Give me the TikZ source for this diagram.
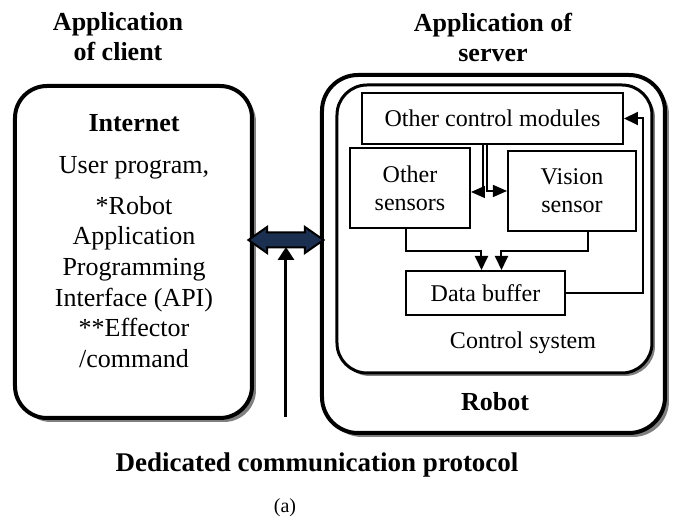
\documentclass[tikz,border=0pt]{standalone}
\usepackage{fontspec}
\setmainfont{Liberation Serif}
\usetikzlibrary{arrows.meta, calc, shapes.arrows, shadows}

\definecolor{linknavy}{HTML}{1B3050}
\tikzset{
  bigbox/.style={draw, line width=2pt, rounded corners=16pt, fill=white,
    drop shadow={shadow xshift=2pt, shadow yshift=-2pt, fill=gray, opacity=1}},
  ctrlbox/.style={draw, line width=1.5pt, rounded corners=15pt, fill=white,
    drop shadow={shadow xshift=1.5pt, shadow yshift=-1.5pt, fill=gray, opacity=1}},
  unit/.style={draw, line width=1pt, fill=white, align=center, inner sep=0pt,
    font=\fontsize{12}{14}\selectfont},
  txt/.style={align=center, inner sep=0pt, font=\fontsize{13}{15.3}\selectfont},
  boldtxt/.style={txt, font=\fontsize{13}{15}\selectfont\bfseries},
  flow/.style={line width=1pt, -{Triangle[width=6.5pt,length=7pt]}},
  thinflow/.style={line width=0.7pt, -{Triangle[width=6pt,length=7pt]}}
}

\begin{document}
\begin{tikzpicture}[x=0.5pt, y=-0.5pt]
\useasboundingbox (0,0) rectangle (677,529);

% client side
\node[boldtxt] (clienttitle) at (118,37) {Application\\of client};
\node[bigbox, minimum width=118.5pt, minimum height=166pt] (client) at (133.5,252) {};
\node[boldtxt] (internet) at (134,123) {Internet};
\node[txt] (userprog) at (134,168) {User program,};
\node[txt] (api) at (134,282) {*Robot\\Application\\Programming\\Interface (API)\\**Effector\\/command};

% server side
\node[boldtxt] (servertitle) at (493,37) {Application of\\server};
\node[bigbox, rounded corners=18pt, minimum width=171.5pt, minimum height=179pt] (robot) at (493.5,254) {};
\node[ctrlbox, minimum width=157.5pt, minimum height=144pt] (ctrl) at (494.5,229) {};
\node[unit, minimum width=130.5pt, minimum height=25.5pt] (othermods) at (492.5,118.5) {Other control modules};
\node[unit, minimum width=60pt, minimum height=40pt] (othersens) at (410,188) {Other\\sensors};
\node[unit, minimum width=64pt, minimum height=40pt] (vision) at (572,191) {Vision\\sensor};
\node[unit, minimum width=79.5pt, minimum height=22pt] (databuf) at (485.5,293) {Data buffer};
\node[txt, font=\fontsize{12}{14}\selectfont] (ctrltext) at (523,343) {Control system};
\node[boldtxt] (robottext) at (495,402) {Robot};

\draw[flow] ([xshift=-2pt]othersens.south) -- ++(0,22) -| ([xshift=-2pt]databuf.north);
\draw[flow] ([xshift=8pt]vision.south) -- ++(0,19) -| ([xshift=8pt]databuf.north);
\draw[flow] (databuf.east) -- ++(77,0) |- (othermods.east);
\draw[thinflow] ([xshift=-4.75pt]othermods.south) |- ([yshift=-2pt]othersens.east);
\draw[thinflow] ([xshift=-2.75pt]othermods.south) |- (vision.west);

% link between client and server
\node[double arrow, draw, line width=1pt, fill=linknavy, inner sep=0pt,
  minimum height=37.5pt, double arrow head extend=2.75pt,
  double arrow tip angle=70] (link) at (286,240) {\rule{0pt}{6.5pt}};
\coordinate (protobase) at (286,417);
\draw[line width=1.5pt, -{Triangle[width=8pt,length=6.5pt]}] (protobase) -- ($(protobase |- link.center)+(0,7)$);

\node[boldtxt, font=\fontsize{13.5}{15}\selectfont\bfseries] (proto) at (317,465) {Dedicated communication protocol};
\node[txt, font=\fontsize{10}{12}\selectfont] (caption) at (285,508) {(a)};
\end{tikzpicture}
\end{document}
